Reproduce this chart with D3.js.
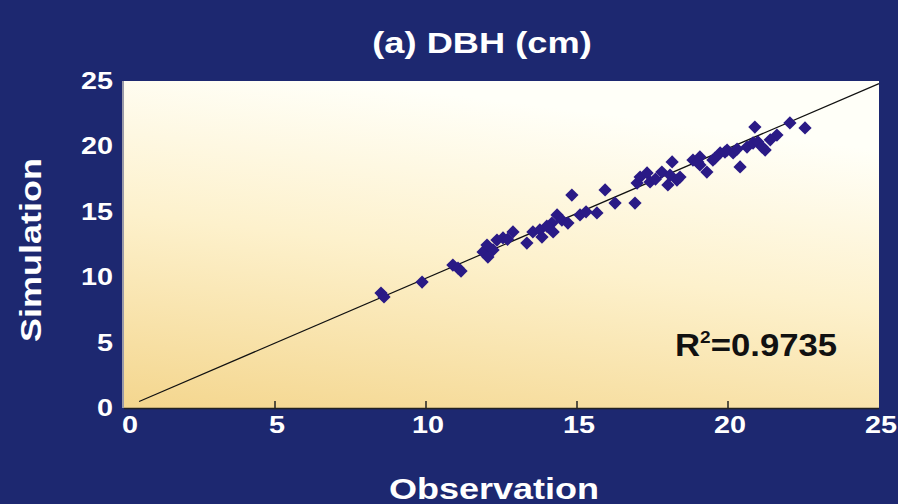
<!DOCTYPE html>
<html><head><meta charset="utf-8">
<script src="https://cdn.jsdelivr.net/npm/d3@7"></script>
<style>html,body{margin:0;padding:0;background:#1d2870;}svg{display:block;}</style>
</head><body>
<svg id="c" width="898" height="504"></svg>
<script>
const title = "(a) DBH (cm)";
const xLabel = "Observation";
const yLabel = "Simulation";
const r2Text = "0.9735";
const xTicks = [0, 5, 10, 15, 20, 25];
const yTicks = [0, 5, 10, 15, 20, 25];
const obs = [8.51,8.61,9.87,10.89,11.06,11.16,11.89,12.05,12.02,12.22,12.35,12.55,12.88,13.34,13.54,13.77,13.84,14.17,14.34,14.50,14.21,14.70,14.83,15.10,15.66,15.93,16.26,16.92,16.99,17.09,17.32,17.42,17.81,18.15,18.08,18.31,18.01,18.84,19.07,19.30,19.50,19.74,19.97,20.17,20.40,20.63,20.83,20.89,20.99,21.23,21.62,22.05,22.55,19.07,19.57,19.90,18.41,19.00,21.13,21.40,12.70,14.00,15.30,17.60,20.30];
const sim = [8.79,8.49,9.63,10.93,10.70,10.47,11.93,11.54,12.46,12.08,12.84,13.00,13.46,12.61,13.46,13.61,13.07,14.14,14.76,14.37,13.46,14.14,16.28,14.76,14.91,16.67,15.67,15.67,17.20,17.66,17.97,17.28,18.04,18.81,17.81,17.43,17.05,18.96,18.58,18.04,18.96,19.50,19.72,19.50,18.43,19.95,20.26,21.48,20.34,19.72,20.87,21.79,21.41,19.19,19.11,19.57,17.66,18.80,19.95,20.50,12.90,13.90,15.00,17.50,19.80];
const fitLine = [[0.5, 0.5], [25, 24.8]];

const svg = d3.select("#c");
const W = 898, H = 504;
svg.append("rect").attr("width", W).attr("height", H).attr("fill", "#1d2870");

const L = 124, R = 879, T = 81, B = 408;
const x = d3.scaleLinear().domain([0, 25]).range([L, R]);
const y = d3.scaleLinear().domain([0, 25]).range([B, T]);

const defs = svg.append("defs");
const g = defs.append("linearGradient").attr("id", "bg")
  .attr("x1", "0.3").attr("y1", "0").attr("x2", "0").attr("y2", "1");
g.append("stop").attr("offset", "0").attr("stop-color", "#fffff8");
g.append("stop").attr("offset", "0.45").attr("stop-color", "#fdf1cc");
g.append("stop").attr("offset", "1").attr("stop-color", "#f4d68e");

svg.append("rect").attr("x", L).attr("y", T).attr("width", R - L).attr("height", B - T)
  .attr("fill", "url(#bg)");
svg.append("line").attr("x1", L - 1).attr("x2", L - 1).attr("y1", T).attr("y2", B)
  .attr("stroke", "#9a9aa8").attr("stroke-width", 2);
svg.append("line").attr("x1", L).attr("x2", R).attr("y1", B + 0.5).attr("y2", B + 0.5)
  .attr("stroke", "#222").attr("stroke-width", 1.5);

// inner ticks
svg.append("g").selectAll("line").data(xTicks.slice(1, -1)).join("line")
  .attr("x1", d => x(d)).attr("x2", d => x(d)).attr("y1", B).attr("y2", B - 7)
  .attr("stroke", "#222").attr("stroke-width", 1.5);

function sText(sel, sx) {
  return sel.attr("transform", function () {
    const tx = +this.getAttribute("data-x"), ty = +this.getAttribute("data-y");
    return `translate(${tx},${ty}) scale(${sx},1)`;
  });
}
const font = "'Liberation Sans', Arial, sans-serif";

// tick labels
svg.append("g").selectAll("text").data(xTicks).join("text")
  .attr("data-x", d => x(d) + (d === 0 ? 6 : 2)).attr("data-y", 433)
  .attr("text-anchor", "middle").attr("fill", "#fff")
  .attr("font-family", font).attr("font-weight", "bold").attr("font-size", 24)
  .text(d => d).call(sText, 1.2);
svg.append("g").selectAll("text").data(yTicks).join("text")
  .attr("data-x", 113).attr("data-y", d => y(d) + 8)
  .attr("text-anchor", "end").attr("fill", "#fff")
  .attr("font-family", font).attr("font-weight", "bold").attr("font-size", 24)
  .text(d => d).call(sText, 1.2);

// fit line
svg.append("line")
  .attr("x1", x(fitLine[0][0])).attr("y1", y(fitLine[0][1]))
  .attr("x2", x(fitLine[1][0])).attr("y2", y(fitLine[1][1]))
  .attr("stroke", "#111").attr("stroke-width", 1.2);

// points
const pts = obs.map((o, i) => ({ o, s: sim[i] }));
svg.append("g").selectAll("path").data(pts).join("path")
  .attr("d", d3.symbol().type(d3.symbolDiamond2).size(112))
  .attr("transform", d => `translate(${x(d.o)},${y(d.s)})`)
  .attr("fill", "#2a1a86");

// title
svg.append("text").attr("data-x", 482).attr("data-y", 53)
  .attr("text-anchor", "middle").attr("fill", "#fff")
  .attr("font-family", font).attr("font-weight", "bold").attr("font-size", 29)
  .text(title).call(sText, 1.25);

// axis titles
svg.append("text").attr("data-x", 494).attr("data-y", 499)
  .attr("text-anchor", "middle").attr("fill", "#fff")
  .attr("font-family", font).attr("font-weight", "bold").attr("font-size", 30)
  .text(xLabel).call(sText, 1.2);
svg.append("text")
  .attr("transform", "translate(41,250) rotate(-90) scale(1.2,1)")
  .attr("text-anchor", "middle").attr("fill", "#fff")
  .attr("font-family", font).attr("font-weight", "bold").attr("font-size", 30)
  .text(yLabel);

// R^2
const rt = svg.append("text").attr("data-x", 675).attr("data-y", 356)
  .attr("fill", "#111").attr("font-family", font).attr("font-weight", "bold").attr("font-size", 31);
rt.append("tspan").text("R");
rt.append("tspan").attr("font-size", 17).attr("dy", -13).text("2");
rt.append("tspan").attr("dy", 13).text("=" + r2Text);
rt.call(sText, 1.12);
</script>
</body></html>
